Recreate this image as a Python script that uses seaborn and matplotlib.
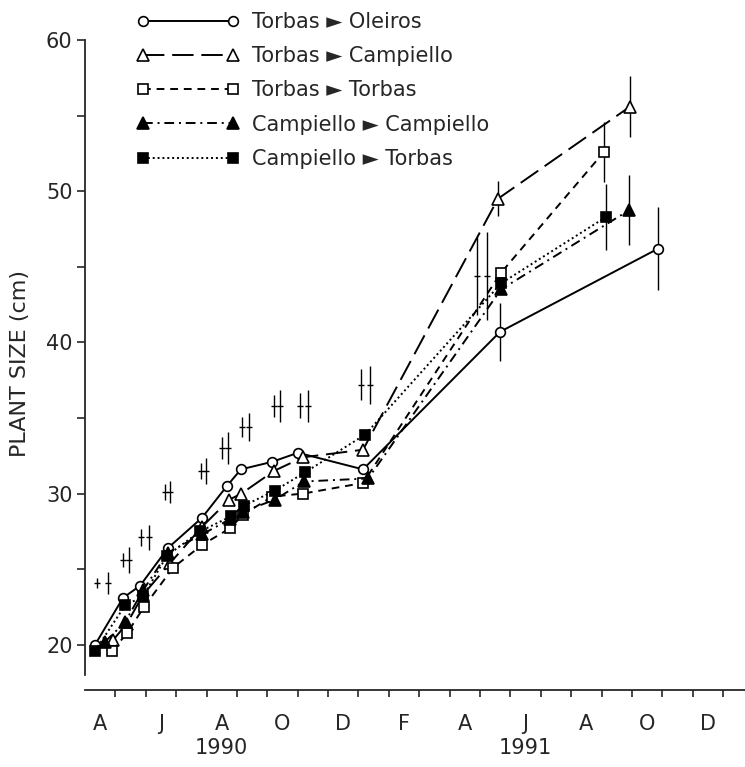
import numpy as np
import pandas as pd
import matplotlib
matplotlib.use("Agg")
import matplotlib.pyplot as plt
import matplotlib.transforms as mtransforms
import seaborn as sns

# months counted from 1 April 1990
month_labels = ['A', 'J', 'A', 'O', 'D', 'F', 'A', 'J', 'A', 'O', 'D']
year_labels = ['1990', '1991']

# Torbas -> Oleiros (open circles, solid)
m_to = [0.33, 1.25, 1.81, 2.73, 3.85, 4.67, 5.13, 6.16, 7.01, 9.15, 13.66, 18.86]
v_to = [20.0, 23.1, 23.9, 26.4, 28.4, 30.5, 31.6, 32.1, 32.7, 31.6, 40.7, 46.2]
# Torbas -> Campiello (open triangles, long dash)
m_tc = [0.92, 1.38, 1.91, 2.80, 3.85, 4.75, 5.15, 6.22, 7.18, 9.15, 13.59, 17.94]
v_tc = [20.3, 21.4, 23.3, 25.4, 27.8, 29.6, 30.0, 31.5, 32.4, 32.9, 49.5, 55.6]
# Torbas -> Torbas (open squares, dashed)
m_tt = [0.89, 1.38, 1.94, 2.90, 3.85, 4.77, 5.20, 6.16, 7.18, 9.15, 13.69, 17.08]
v_tt = [19.6, 20.75, 22.5, 25.1, 26.6, 27.7, 28.6, 29.8, 30.0, 30.7, 44.6, 52.6]
# Campiello -> Campiello (filled triangles, dash-dot)
m_cc = [0.66, 1.32, 1.91, 2.73, 3.85, 4.77, 5.20, 6.25, 7.21, 9.32, 13.69, 17.91]
v_cc = [20.2, 21.5, 23.6, 26.1, 27.3, 28.3, 28.8, 29.6, 30.8, 31.0, 43.5, 48.75]
# Campiello -> Torbas (filled squares, dotted)
m_ct = [0.33, 1.32, 1.91, 2.70, 3.79, 4.81, 5.23, 6.25, 7.24, 9.22, 13.69, 17.15]
v_ct = [19.6, 22.6, 23.2, 25.9, 27.5, 28.5, 29.2, 30.2, 31.4, 33.9, 43.9, 48.3]

# error bars attached to the 1991 points
err_x = [13.66, 18.86, 13.59, 17.94, 17.08, 17.15, 17.91]
err_y = [40.7, 46.2, 49.5, 55.6, 52.6, 48.3, 48.75]
err_h = [1.9, 2.75, 1.15, 2.0, 2.0, 2.2, 2.3]

# displaced error bars (pairs)
eb_left_x = [0.39, 1.25, 1.84, 2.63, 3.82, 4.51, 5.17, 6.22, 7.08, 9.08, 12.90]
eb_right_x = [0.76, 1.45, 2.11, 2.80, 3.98, 4.71, 5.40, 6.42, 7.34, 9.38, 13.23]
eb_y = [24.1, 25.6, 27.1, 30.1, 31.5, 33.0, 34.4, 35.8, 35.8, 37.2, 44.4]
eb_left_h = [0.34, 0.45, 0.56, 0.51, 0.51, 0.73, 0.68, 0.71, 0.83, 1.01, 2.6]
eb_right_h = [0.74, 0.84, 0.84, 0.73, 0.84, 1.04, 0.93, 1.07, 1.04, 1.27, 2.9]

sns.set_style("ticks")
plt.rcParams['font.family'] = ['DejaVu Sans']
plt.rcParams['axes.linewidth'] = 1.3

fig = plt.figure(figsize=(7.45, 7.67), dpi=100)
ax = fig.add_axes([85 / 745, 1 - 675 / 767, 660 / 745, 635 / 767])

series = [
    ("Torbas \u25BA Oleiros", m_to, v_to, '-', 'o', 'white', 7),
    ("Torbas \u25BA Campiello", m_tc, v_tc, (0, (11, 4)), '^', 'white', 8),
    ("Torbas \u25BA Torbas", m_tt, v_tt, (0, (4, 3)), 's', 'white', 7),
    ("Campiello \u25BA Campiello", m_cc, v_cc, (0, (5, 2.5, 1, 2.5)), '^', 'black', 8),
    ("Campiello \u25BA Torbas", m_ct, v_ct, (0, (1, 1.5)), 's', 'black', 7),
]

for lbl, m, v, ls, mk, fc, ms in series:
    sns.lineplot(x=m, y=v, ax=ax, color='black', linewidth=1.4, linestyle=ls,
                 marker=mk, markersize=ms, markerfacecolor=fc,
                 markeredgecolor='black', markeredgewidth=1.2,
                 label=lbl, sort=False)

ax.errorbar(err_x, err_y, yerr=err_h, fmt='none', ecolor='black',
            elinewidth=1.0, capsize=0, zorder=1)
ax.errorbar(eb_left_x, eb_y, yerr=eb_left_h, fmt='none', ecolor='black',
            elinewidth=1.0, capsize=0)
ax.errorbar(eb_right_x, eb_y, yerr=eb_right_h, fmt='none', ecolor='black',
            elinewidth=1.0, capsize=0)
ax.plot(eb_left_x + eb_right_x, eb_y + eb_y, ls='none', marker='_',
        color='black', markersize=4, markeredgewidth=1.0)

ax.set_xlim(0, 21.72)
ax.set_ylim(18.0, 60)

sns.despine(ax=ax)
ax.spines['bottom'].set_position(('outward', 11))

ax.set_yticks([20, 30, 40, 50, 60])
ax.set_yticks([25, 35, 45, 55], minor=True)
ax.tick_params(axis='y', which='both', direction='out', length=6, width=1.2,
               labelsize=15, pad=3)

ax.set_xticks(np.arange(1, 22))
ax.set_xticklabels([])
ax.set_xticks(np.arange(0.5, 21, 2), minor=True)
ax.set_xticklabels(month_labels, minor=True)
ax.tick_params(axis='x', which='major', direction='out', length=5, width=1.2)
ax.tick_params(axis='x', which='minor', length=0, labelsize=15, pad=17)

trans = mtransforms.blended_transform_factory(ax.transData, ax.transAxes)
ax.text(4.5, -0.115, year_labels[0], transform=trans, ha='center', va='center', fontsize=15)
ax.text(14.5, -0.115, year_labels[1], transform=trans, ha='center', va='center', fontsize=15)

ax.set_xlabel('')
ax.set_ylabel('PLANT SIZE (cm)', fontsize=16)
ax.yaxis.set_label_coords(-0.083, 0.49)

ax.legend(loc='upper left', bbox_to_anchor=(133 / 745, 1 - 8 / 767),
          bbox_transform=fig.transFigure, frameon=False, numpoints=2,
          fontsize=15, handlelength=4.9, handletextpad=0.6,
          labelspacing=0.68, borderaxespad=0, borderpad=0.2)

fig.savefig('out.png', dpi=100)
